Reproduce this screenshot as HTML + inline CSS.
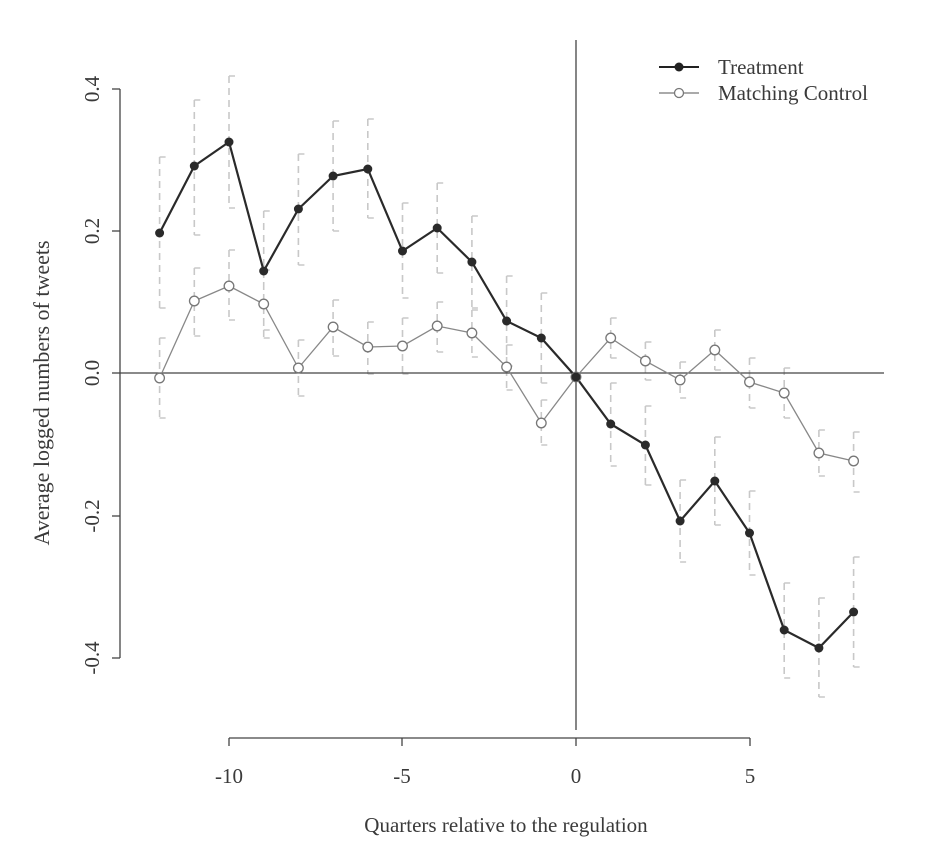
<!DOCTYPE html>
<html><head><meta charset="utf-8"><style>
html,body{margin:0;padding:0;background:#fff;}
svg text{font-family:"Liberation Serif",serif;fill:#3a3a3a;}
</style></head><body>
<svg width="929" height="853" viewBox="0 0 929 853" xmlns="http://www.w3.org/2000/svg">
<!-- error bars -->
<path fill="none" stroke="#c8c8c8" stroke-width="1.6" stroke-dasharray="7,5" d="
M159.6 157V308 M194.3 100V235 M229 76V208 M263.7 211V330 M298.4 154V265 M333.1 121V231 M367.8 119V218 M402.5 203V298 M437.2 183V273 M471.9 216V308 M506.6 276V366 M541.3 293V383 M610.7 383V466 M645.4 406V485 M680.1 480V562 M714.8 437V525 M749.5 491V575 M784.2 583V678 M818.9 598V697 M853.6 557V667
M159.6 338V418 M194.3 268V336 M229 250V320 M263.7 270V338 M298.4 340V396 M333.1 300V356 M367.8 322V374 M402.5 318V374 M437.2 302V352 M471.9 310V357 M506.6 345V390 M541.3 400V445 M610.7 318V358 M645.4 342V380 M680.1 362V398 M714.8 330V370 M749.5 358V408 M784.2 368V418 M818.9 430V476 M853.6 432V492"/>
<path fill="none" stroke="#c8c8c8" stroke-width="1.6" d="
M159.6 157h6M159.6 308h6M194.3 100h6M194.3 235h6M229 76h6M229 208h6M263.7 211h6M263.7 330h6M298.4 154h6M298.4 265h6M333.1 121h6M333.1 231h6M367.8 119h6M367.8 218h6M402.5 203h6M402.5 298h6M437.2 183h6M437.2 273h6M471.9 216h6M471.9 308h6M506.6 276h6M506.6 366h6M541.3 293h6M541.3 383h6M610.7 383h6M610.7 466h6M645.4 406h6M645.4 485h6M680.1 480h6M680.1 562h6M714.8 437h6M714.8 525h6M749.5 491h6M749.5 575h6M784.2 583h6M784.2 678h6M818.9 598h6M818.9 697h6M853.6 557h6M853.6 667h6
M159.6 338h6M159.6 418h6M194.3 268h6M194.3 336h6M229 250h6M229 320h6M263.7 270h6M263.7 338h6M298.4 340h6M298.4 396h6M333.1 300h6M333.1 356h6M367.8 322h6M367.8 374h6M402.5 318h6M402.5 374h6M437.2 302h6M437.2 352h6M471.9 310h6M471.9 357h6M506.6 345h6M506.6 390h6M541.3 400h6M541.3 445h6M610.7 318h6M610.7 358h6M645.4 342h6M645.4 380h6M680.1 362h6M680.1 398h6M714.8 330h6M714.8 370h6M749.5 358h6M749.5 408h6M784.2 368h6M784.2 418h6M818.9 430h6M818.9 476h6M853.6 432h6M853.6 492h6"/>
<!-- axes -->
<g stroke="#444" stroke-width="1.3">
<line x1="120" y1="89" x2="120" y2="658"/>
<line x1="112" y1="89" x2="120" y2="89"/><line x1="112" y1="231" x2="120" y2="231"/>
<line x1="112" y1="373" x2="120" y2="373"/><line x1="112" y1="516" x2="120" y2="516"/>
<line x1="112" y1="658" x2="120" y2="658"/>
<line x1="229" y1="738" x2="750" y2="738"/>
<line x1="229" y1="738" x2="229" y2="746"/><line x1="402" y1="738" x2="402" y2="746"/>
<line x1="576" y1="738" x2="576" y2="746"/><line x1="750" y1="738" x2="750" y2="746"/>
</g>
<g font-size="21" text-anchor="middle">
<text transform="translate(99,89) rotate(-90)">0.4</text>
<text transform="translate(99,231) rotate(-90)">0.2</text>
<text transform="translate(99,373) rotate(-90)">0.0</text>
<text transform="translate(99,516) rotate(-90)">-0.2</text>
<text transform="translate(99,658) rotate(-90)">-0.4</text>
<text x="229" y="783">-10</text><text x="402" y="783">-5</text>
<text x="576" y="783">0</text><text x="750" y="783">5</text>
<text x="506" y="832">Quarters relative to the regulation</text>
<text transform="translate(49,393) rotate(-90)" font-size="22">Average logged numbers of tweets</text>
</g>
<line x1="576" y1="40" x2="576" y2="730" stroke="#444" stroke-width="1.3"/>
<line x1="120" y1="373" x2="884" y2="373" stroke="#444" stroke-width="1.3"/>
<!-- series -->
<polyline fill="none" stroke="#888" stroke-width="1.3" points="159.6,378 194.3,301 229,286 263.7,304 298.4,368 333.1,327 367.8,347 402.5,346 437.2,326 471.9,333 506.6,367 541.3,423 576,377 610.7,338 645.4,361 680.1,380 714.8,350 749.5,382 784.2,393 818.9,453 853.6,461"/>
<polyline fill="none" stroke="#2a2a2a" stroke-width="2.2" points="159.6,233 194.3,166 229,142 263.7,271 298.4,209 333.1,176 367.8,169 402.5,251 437.2,228 471.9,262 506.6,321 541.3,338 576,377 610.7,424 645.4,445 680.1,521 714.8,481 749.5,533 784.2,630 818.9,648 853.6,612"/>
<g fill="#fff" stroke="#777" stroke-width="1.3">
<circle cx="159.6" cy="378" r="4.8"/><circle cx="194.3" cy="301" r="4.8"/><circle cx="229" cy="286" r="4.8"/><circle cx="263.7" cy="304" r="4.8"/><circle cx="298.4" cy="368" r="4.8"/><circle cx="333.1" cy="327" r="4.8"/><circle cx="367.8" cy="347" r="4.8"/><circle cx="402.5" cy="346" r="4.8"/><circle cx="437.2" cy="326" r="4.8"/><circle cx="471.9" cy="333" r="4.8"/><circle cx="506.6" cy="367" r="4.8"/><circle cx="541.3" cy="423" r="4.8"/><circle cx="576" cy="377" r="4.8"/><circle cx="610.7" cy="338" r="4.8"/><circle cx="645.4" cy="361" r="4.8"/><circle cx="680.1" cy="380" r="4.8"/><circle cx="714.8" cy="350" r="4.8"/><circle cx="749.5" cy="382" r="4.8"/><circle cx="784.2" cy="393" r="4.8"/><circle cx="818.9" cy="453" r="4.8"/><circle cx="853.6" cy="461" r="4.8"/>
</g>
<g fill="#2a2a2a">
<circle cx="159.6" cy="233" r="4.5"/><circle cx="194.3" cy="166" r="4.5"/><circle cx="229" cy="142" r="4.5"/><circle cx="263.7" cy="271" r="4.5"/><circle cx="298.4" cy="209" r="4.5"/><circle cx="333.1" cy="176" r="4.5"/><circle cx="367.8" cy="169" r="4.5"/><circle cx="402.5" cy="251" r="4.5"/><circle cx="437.2" cy="228" r="4.5"/><circle cx="471.9" cy="262" r="4.5"/><circle cx="506.6" cy="321" r="4.5"/><circle cx="541.3" cy="338" r="4.5"/><circle cx="576" cy="377" r="4.5"/><circle cx="610.7" cy="424" r="4.5"/><circle cx="645.4" cy="445" r="4.5"/><circle cx="680.1" cy="521" r="4.5"/><circle cx="714.8" cy="481" r="4.5"/><circle cx="749.5" cy="533" r="4.5"/><circle cx="784.2" cy="630" r="4.5"/><circle cx="818.9" cy="648" r="4.5"/><circle cx="853.6" cy="612" r="4.5"/>
</g>
<!-- legend -->
<line x1="659" y1="67" x2="699" y2="67" stroke="#222" stroke-width="2"/>
<circle cx="679" cy="67" r="4.5" fill="#222"/>
<line x1="659" y1="93" x2="699" y2="93" stroke="#777" stroke-width="1.3"/>
<circle cx="679" cy="93" r="4.5" fill="#fff" stroke="#777" stroke-width="1.3"/>
<text x="718" y="74" font-size="21">Treatment</text>
<text x="718" y="100" font-size="21">Matching Control</text>
</svg>
</body></html>
